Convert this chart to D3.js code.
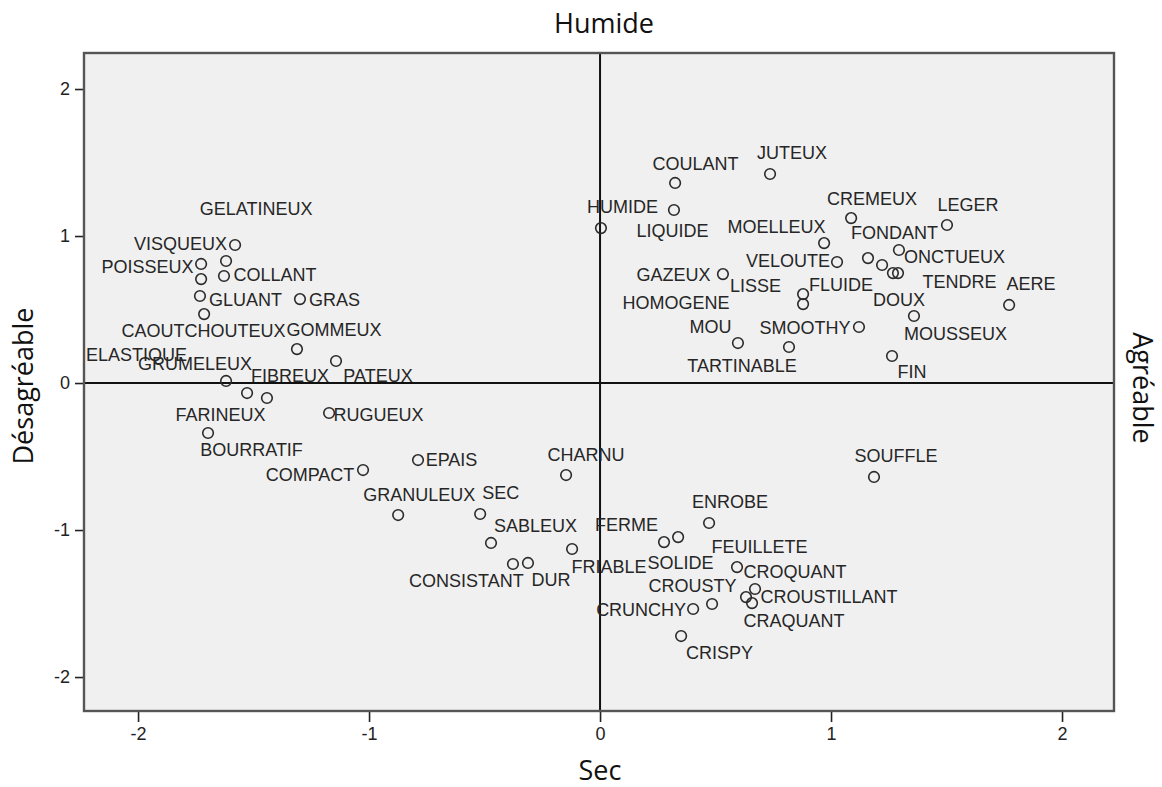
<!DOCTYPE html>
<html>
<head>
<meta charset="utf-8">
<script src="https://cdn.jsdelivr.net/npm/d3@7"></script>
<style>
  html, body { margin: 0; padding: 0; background: #ffffff; }
  svg { display: block; }
</style>
</head>
<body>
<svg id="chart" width="1162" height="787"></svg>
<script>
// ---------- DATA ----------
const terms = [
  "VISQUEUX","GELATINEUX","COLLANT","POISSEUX","ELASTIQUE","GLUANT","CAOUTCHOUTEUX","GRAS",
  "GOMMEUX","PATEUX","GRUMELEUX","FIBREUX","FARINEUX","RUGUEUX","BOURRATIF","COMPACT",
  "EPAIS","GRANULEUX","SEC","SABLEUX","CONSISTANT","DUR","FRIABLE","CHARNU",
  "ENROBE","FERME","SOLIDE","FEUILLETE","CROQUANT","CROUSTILLANT","CRAQUANT","CROUSTY",
  "CRUNCHY","CRISPY","SOUFFLE",
  "COULANT","JUTEUX","HUMIDE","LIQUIDE","MOELLEUX","VELOUTE","GAZEUX","LISSE",
  "HOMOGENE","FLUIDE","CREMEUX","LEGER","FONDANT","ONCTUEUX","TENDRE","DOUX",
  "AERE","MOUSSEUX","SMOOTHY","MOU","TARTINABLE","FIN"
];
const dim1 = [ // Sec / Humide axis (x)
  -1.580,-1.619,-1.628,-1.727,-1.727,-1.732,-1.714,-1.299,
  -1.312,-1.143,-1.619,-1.442,-1.528,-1.173,-1.697,-1.026,
  -0.788,-0.874,-0.519,-0.472,-0.377,-0.312,-0.121,-0.147,
  0.472,0.277,0.338,0.593,0.671,0.632,0.658,0.485,
  0.403,0.351,1.186,
  0.325,0.736,0.004,0.320,0.970,1.026,0.532,0.879,
  0.879,1.221,1.087,1.502,1.160,1.294,1.290,1.268,
  1.771,1.359,1.121,0.597,0.818,1.264
];
const dim2 = [ // Désagréable / Agréable axis (y)
  0.939,0.830,0.728,0.810,0.707,0.592,0.469,0.571,
  0.231,0.150,0.014,-0.102,-0.068,-0.204,-0.340,-0.592,
  -0.524,-0.898,-0.891,-1.088,-1.231,-1.224,-1.129,-0.626,
  -0.952,-1.082,-1.048,-1.252,-1.401,-1.456,-1.497,-1.503,
  -1.537,-1.721,-0.639,
  1.361,1.422,1.054,1.177,0.952,0.823,0.741,0.605,
  0.537,0.803,1.122,1.075,0.850,0.905,0.748,0.748,
  0.531,0.456,0.381,0.272,0.245,0.184
];
const tickValues = [-2, -1, 0, 1, 2];
const tickLabels = ["-2", "-1", "0", "1", "2"];
const titles = { top: "Humide", bottom: "Sec", left: "Désagréable", right: "Agréable" };

// ---------- LABEL LAYOUT (pixel offsets of label centre from its point) ----------
const labelOffsets = [
  [-54.5,-1],[30,-52],[51,-1],[-53.5,3],[-64.5,76],[45.5,3.5],[-0.5,16.5],[34.5,1],
  [37,-19.5],[42,15],[-31,-17],[23,-22],[-26.5,22],[49.5,2],[43.5,17],[-53,5],
  [33.5,0],[21,-20.5],[20.5,-21],[44.5,-17],[-46.5,17],[23,17],[37,18.5],[20,-20.5],
  [21,-21],[-37.5,-17.5],[2.5,25.5],[22.5,-20.5],[40,-16.5],[83,-0.5],[42,18],[-19.5,-17.5],
  [-52,1.5],[38.5,17],[22,-21],
  [20.5,-19],[22,-20.5],[21.5,-21],[-1.5,21],[-47.5,-16],[-49,-1],[-49.5,0.5],[-47.5,-8.5],
  [-127,-1],[-41,20.5],[21,-19.5],[21,-19.5],[26.5,-25.5],[55.5,7.5],[61.5,9],[6,27],
  [22,-21],[41.5,18.5],[-54,1],[-27.5,-16],[-47,18.5],[20,16]
];

// ---------- CHART ----------
const svg = d3.select("#chart");
const box = { left: 84, right: 1114, top: 53, bottom: 711 };

const x = d3.scaleLinear().domain([-2.234, 2.225]).range([box.left, box.right]);
const y = d3.scaleLinear().domain([-2.231, 2.245]).range([box.bottom, box.top]);

const labelFont = "'Liberation Sans', Arial, Helvetica, sans-serif";
const titleFont = "'Open Sans', 'Noto Sans', sans-serif";

// plot background
svg.append("rect")
  .attr("x", box.left).attr("y", box.top)
  .attr("width", box.right - box.left).attr("height", box.bottom - box.top)
  .attr("fill", "#f0f0f0");

// zero reference lines
svg.append("line")
  .attr("x1", x(0)).attr("x2", x(0))
  .attr("y1", box.top).attr("y2", box.bottom)
  .attr("stroke", "#111").attr("stroke-width", 2);
svg.append("line")
  .attr("x1", box.left).attr("x2", box.right)
  .attr("y1", y(0)).attr("y2", y(0))
  .attr("stroke", "#111").attr("stroke-width", 2);

// axes
const fmt = d => tickLabels[tickValues.indexOf(d)];
const gx = svg.append("g")
  .attr("transform", `translate(0,${box.bottom})`)
  .call(d3.axisBottom(x).tickValues(tickValues).tickFormat(fmt).tickSize(11).tickPadding(5));
const gy = svg.append("g")
  .attr("transform", `translate(${box.left},0)`)
  .call(d3.axisLeft(y).tickValues(tickValues).tickFormat(fmt).tickSize(9).tickPadding(5));
[gx, gy].forEach(g => {
  g.select(".domain").remove();
  g.selectAll(".tick line").attr("stroke", "#222").attr("stroke-width", 1.6);
  g.selectAll(".tick text")
    .attr("fill", "#222")
    .style("font-family", labelFont)
    .style("font-size", "18px");
});

// frame
svg.append("rect")
  .attr("x", box.left).attr("y", box.top)
  .attr("width", box.right - box.left).attr("height", box.bottom - box.top)
  .attr("fill", "none").attr("stroke", "#555").attr("stroke-width", 2.4);

// points
const pts = terms.map((t, i) => ({ t, vx: dim1[i], vy: dim2[i], off: labelOffsets[i] }));
svg.append("g").selectAll("circle").data(pts).join("circle")
  .attr("cx", d => x(d.vx)).attr("cy", d => y(d.vy))
  .attr("r", 5.3)
  .attr("fill", "none").attr("stroke", "#2a2a2a").attr("stroke-width", 1.6);

// point labels
svg.append("g").selectAll("text").data(pts).join("text")
  .attr("x", d => x(d.vx) + d.off[0])
  .attr("y", d => y(d.vy) + d.off[1])
  .attr("text-anchor", "middle")
  .attr("dominant-baseline", "central")
  .attr("fill", "#262626")
  .style("font-family", labelFont)
  .style("font-size", "18px")
  .text(d => d.t);

// axis titles
const tstyle = s => s.attr("fill", "#111").style("font-family", titleFont).style("font-size", "27px");
svg.append("text").attr("x", 604).attr("y", 33).attr("text-anchor", "middle").text(titles.top).call(tstyle);
svg.append("text").attr("x", 600).attr("y", 780).attr("text-anchor", "middle").text(titles.bottom).call(tstyle);
svg.append("text").attr("transform", "translate(33,386) rotate(-90)").attr("text-anchor", "middle").text(titles.left).call(tstyle);
svg.append("text").attr("transform", "translate(1133,388) rotate(90)").attr("text-anchor", "middle").text(titles.right).call(tstyle);
</script>
</body>
</html>
